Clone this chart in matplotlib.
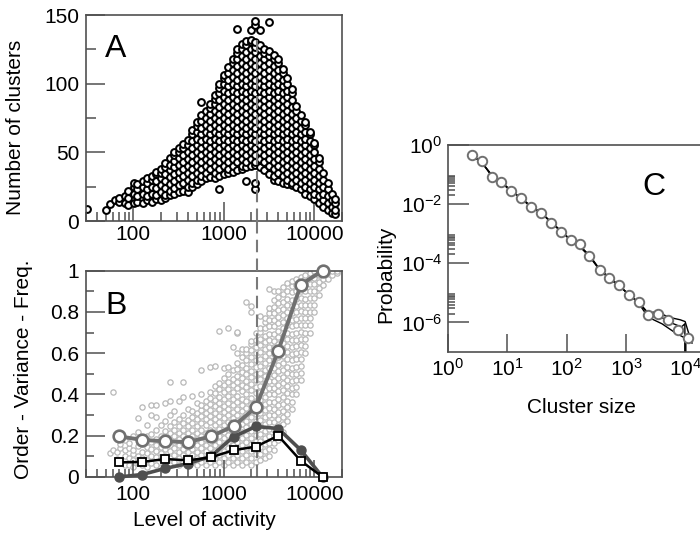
import numpy as np
import matplotlib
matplotlib.use('Agg')
import matplotlib.pyplot as plt
from matplotlib.lines import Line2D
from matplotlib.transforms import blended_transform_factory
from matplotlib.ticker import LogLocator, FixedLocator, NullFormatter, FixedFormatter

plt.rcParams['font.family'] = ['Liberation Sans', 'DejaVu Sans']
plt.rcParams['mathtext.fontset'] = 'custom'
plt.rcParams['mathtext.rm'] = 'Liberation Sans'
plt.rcParams['mathtext.it'] = 'Liberation Sans:italic'
plt.rcParams['mathtext.bf'] = 'Liberation Sans:bold'

# ---------------- Panel A data: number of clusters vs level of activity ----------------
A_col_x = [70, 80, 88, 101, 111, 127, 140, 159, 177, 201, 223, 252, 280, 318, 352, 400, 445,
           503, 560, 633, 705, 797, 888, 1003, 1118, 1263, 1408, 1590, 1772, 2001, 2232, 2520,
           2810, 3170, 3540, 3990, 4460, 5020, 5610, 6320, 7060, 7960, 8890, 10020, 11200,
           12600, 14100, 15800, 17100]
A_col_y = [
    [14, 17],
    [13, 18],
    [12, 17, 22],
    [13, 20, 25, 28],
    [14, 18, 23, 27],
    [13, 20, 25, 29],
    [15, 18, 23, 28, 31],
    [14, 20, 25, 30, 33],
    [16, 19, 24, 29, 34, 36],
    [15, 21, 26, 31, 35, 38],
    [17, 19, 24, 29, 34, 39, 42],
    [19, 22, 27, 32, 37, 41, 46],
    [20, 24, 29, 34, 39, 44, 48, 50],
    [21, 26, 31, 36, 41, 46, 50, 53],
    [22, 28, 33, 38, 43, 48, 53, 56],
    [21, 25, 30, 35, 40, 45, 50, 55, 59],
    [25, 28, 33, 38, 43, 48, 53, 58, 63, 66],
    [27, 30, 35, 40, 45, 50, 55, 60, 65, 69, 72],
    [29, 33, 38, 43, 48, 53, 58, 63, 68, 73, 77, 87],
    [31, 35, 40, 45, 50, 55, 60, 65, 70, 75, 80],
    [32, 38, 43, 48, 53, 58, 63, 68, 73, 78, 82, 85],
    [31, 35, 40, 45, 50, 55, 60, 65, 70, 75, 80, 85, 89, 92],
    [23, 33, 38, 43, 48, 53, 58, 63, 68, 73, 78, 83, 88, 93, 97, 100],
    [34, 40, 45, 50, 55, 60, 65, 70, 75, 80, 85, 90, 95, 100, 104, 106],
    [35, 38, 43, 48, 53, 58, 63, 68, 73, 78, 83, 88, 93, 98, 103, 108, 112],
    [36, 40, 45, 50, 55, 60, 65, 70, 75, 80, 85, 90, 95, 100, 105, 110, 115, 118],
    [37, 43, 48, 53, 58, 63, 68, 73, 78, 83, 88, 93, 98, 103, 108, 113, 118, 122, 125, 140],
    [38, 40, 45, 50, 55, 60, 65, 70, 75, 80, 85, 90, 95, 100, 105, 110, 115, 120, 125, 129],
    [29, 39, 43, 48, 53, 58, 63, 68, 73, 78, 83, 88, 93, 98, 103, 108, 113, 118, 123, 128, 131],
    [40, 45, 50, 55, 60, 65, 70, 75, 80, 85, 90, 95, 100, 105, 110, 115, 120, 125, 130, 132, 139],
    [23, 28, 41, 43, 48, 53, 58, 63, 68, 73, 78, 83, 88, 93, 98, 103, 108, 113, 118, 123, 127, 130, 143, 146],
    [39, 45, 50, 55, 60, 65, 70, 75, 80, 85, 90, 95, 100, 105, 110, 115, 120, 125, 128, 139],
    [37, 43, 48, 53, 58, 63, 68, 73, 78, 83, 88, 93, 98, 103, 108, 113, 118, 122, 125],
    [34, 40, 45, 50, 55, 60, 65, 70, 75, 80, 85, 90, 95, 100, 105, 110, 115, 120, 124, 145],
    [30, 33, 38, 43, 48, 53, 58, 63, 68, 73, 78, 83, 88, 93, 98, 103, 108, 113, 118, 121],
    [29, 35, 40, 45, 50, 55, 60, 65, 70, 75, 80, 85, 90, 95, 100, 105, 110, 115, 118],
    [28, 33, 38, 43, 48, 53, 58, 63, 68, 73, 78, 83, 88, 93, 98, 103, 108, 111],
    [27, 30, 35, 40, 45, 50, 55, 60, 65, 70, 75, 80, 85, 90, 95, 100, 104],
    [26, 28, 33, 38, 43, 48, 53, 58, 63, 68, 73, 78, 83, 88, 93, 96],
    [25, 30, 35, 40, 45, 50, 55, 60, 65, 70, 75, 80, 84],
    [23, 28, 33, 38, 43, 48, 53, 58, 63, 68, 73, 77],
    [20, 25, 30, 35, 40, 45, 50, 55, 60, 65, 70, 72],
    [18, 23, 28, 33, 38, 43, 48, 53, 58, 63, 65],
    [16, 20, 25, 30, 35, 40, 45, 50, 55, 57],
    [13, 18, 23, 28, 33, 38, 43, 46],
    [10, 15, 20, 25, 30, 35],
    [8, 13, 18, 23, 28],
    [6, 10, 15, 20],
    [5, 8, 13, 16],
]
A_out_x = [31, 50, 55, 62]
A_out_y = [8.5, 8, 12.4, 15]

# ---------------- Panel B data ----------------
B_col_x = [55, 60, 66, 72, 80, 89, 100, 112, 126, 141, 158, 178, 200, 224, 251, 282, 316, 355,
           398, 447, 501, 562, 631, 708, 794, 891, 1000, 1122, 1259, 1413, 1585, 1778, 1995,
           2239, 2512, 2818, 3162, 3548, 3981, 4467, 5012, 5623, 6310, 7079, 7943, 8913,
           10000, 11220, 12589, 14125, 15849, 17783]
B_col_y = [
    [0.115],
    [0.41, 0.13],
    [0.12, 0.085],
    [0.14, 0.16, 0.07],
    [0.10, 0.13, 0.18, 0.06],
    [0.06, 0.09, 0.14, 0.165],
    [0.05, 0.08, 0.11, 0.13, 0.20],
    [0.07, 0.10, 0.15, 0.22, 0.285],
    [0.06, 0.09, 0.12, 0.16, 0.19, 0.34],
    [0.05, 0.08, 0.115, 0.145, 0.20, 0.25],
    [0.07, 0.10, 0.135, 0.17, 0.21, 0.30, 0.35],
    [0.06, 0.095, 0.125, 0.155, 0.185, 0.23, 0.29, 0.35],
    [0.05, 0.085, 0.115, 0.145, 0.175, 0.20, 0.25],
    [0.07, 0.10, 0.135, 0.165, 0.195, 0.225, 0.27, 0.36],
    [0.06, 0.09, 0.125, 0.155, 0.185, 0.215, 0.245, 0.30, 0.37, 0.46],
    [0.075, 0.105, 0.14, 0.17, 0.20, 0.23, 0.265, 0.32],
    [0.06, 0.09, 0.12, 0.155, 0.185, 0.215, 0.245, 0.28, 0.37],
    [0.075, 0.105, 0.135, 0.165, 0.20, 0.23, 0.26, 0.30, 0.39, 0.46],
    [0.06, 0.09, 0.12, 0.15, 0.185, 0.215, 0.245, 0.275, 0.33],
    [0.075, 0.105, 0.135, 0.17, 0.20, 0.23, 0.26, 0.29, 0.32, 0.395],
    [0.06, 0.09, 0.12, 0.155, 0.185, 0.215, 0.245, 0.28, 0.31, 0.36],
    [0.075, 0.105, 0.14, 0.17, 0.20, 0.23, 0.26, 0.295, 0.325, 0.35, 0.40, 0.52],
    [0.06, 0.09, 0.125, 0.155, 0.185, 0.215, 0.25, 0.28, 0.31, 0.34, 0.37],
    [0.075, 0.105, 0.14, 0.17, 0.20, 0.23, 0.265, 0.295, 0.325, 0.355, 0.385, 0.41, 0.535],
    [0.06, 0.09, 0.125, 0.155, 0.185, 0.22, 0.25, 0.28, 0.31, 0.345, 0.375, 0.405, 0.44, 0.54],
    [0.075, 0.105, 0.14, 0.17, 0.20, 0.235, 0.265, 0.295, 0.33, 0.36, 0.39, 0.425, 0.455, 0.71],
    [0.06, 0.09, 0.125, 0.155, 0.19, 0.22, 0.25, 0.285, 0.315, 0.345, 0.38, 0.41, 0.445, 0.48, 0.53],
    [0.075, 0.105, 0.14, 0.17, 0.205, 0.235, 0.265, 0.30, 0.33, 0.36, 0.395, 0.425, 0.46, 0.50, 0.535, 0.72],
    [0.06, 0.09, 0.125, 0.155, 0.19, 0.22, 0.25, 0.285, 0.315, 0.35, 0.38, 0.41, 0.445, 0.475, 0.52, 0.63],
    [0.075, 0.105, 0.14, 0.17, 0.205, 0.235, 0.27, 0.30, 0.33, 0.365, 0.395, 0.43, 0.46, 0.49, 0.525, 0.555, 0.60, 0.70, 0.705],
    [0.06, 0.09, 0.125, 0.155, 0.19, 0.22, 0.255, 0.285, 0.32, 0.35, 0.38, 0.415, 0.445, 0.48, 0.51, 0.545, 0.58, 0.62],
    [0.075, 0.105, 0.14, 0.17, 0.205, 0.24, 0.27, 0.305, 0.335, 0.37, 0.40, 0.435, 0.465, 0.50, 0.53, 0.565, 0.60, 0.62, 0.85],
    [0.06, 0.09, 0.125, 0.16, 0.19, 0.225, 0.255, 0.29, 0.32, 0.355, 0.385, 0.42, 0.45, 0.485, 0.515, 0.55, 0.58, 0.615, 0.645, 0.66, 0.80, 0.83],
    [0.075, 0.11, 0.14, 0.175, 0.205, 0.24, 0.27, 0.305, 0.34, 0.37, 0.405, 0.435, 0.47, 0.50, 0.535, 0.565, 0.60, 0.63, 0.665, 0.70],
    [0.08, 0.11, 0.145, 0.175, 0.21, 0.245, 0.275, 0.31, 0.34, 0.375, 0.41, 0.44, 0.475, 0.505, 0.54, 0.57, 0.605, 0.64, 0.67, 0.705, 0.72, 0.78],
    [0.09, 0.125, 0.16, 0.19, 0.225, 0.255, 0.29, 0.325, 0.355, 0.39, 0.42, 0.455, 0.49, 0.52, 0.555, 0.585, 0.62, 0.655, 0.685, 0.72, 0.75, 0.77],
    [0.10, 0.135, 0.165, 0.20, 0.235, 0.265, 0.30, 0.335, 0.365, 0.40, 0.43, 0.465, 0.50, 0.53, 0.565, 0.60, 0.63, 0.665, 0.695, 0.73, 0.76, 0.795, 0.82, 0.91],
    [0.13, 0.165, 0.20, 0.23, 0.265, 0.30, 0.33, 0.365, 0.40, 0.43, 0.465, 0.495, 0.53, 0.565, 0.595, 0.63, 0.66, 0.695, 0.73, 0.76, 0.795, 0.825, 0.86, 0.90],
    [0.18, 0.215, 0.25, 0.28, 0.315, 0.35, 0.38, 0.415, 0.445, 0.48, 0.515, 0.545, 0.58, 0.61, 0.645, 0.68, 0.71, 0.745, 0.775, 0.81, 0.845, 0.875, 0.90],
    [0.22, 0.255, 0.29, 0.32, 0.355, 0.39, 0.42, 0.455, 0.485, 0.52, 0.555, 0.585, 0.62, 0.65, 0.685, 0.72, 0.75, 0.785, 0.815, 0.85, 0.885, 0.92],
    [0.27, 0.305, 0.34, 0.37, 0.405, 0.44, 0.47, 0.505, 0.535, 0.57, 0.605, 0.635, 0.67, 0.70, 0.735, 0.77, 0.80, 0.835, 0.865, 0.90, 0.94],
    [0.33, 0.365, 0.40, 0.43, 0.465, 0.50, 0.53, 0.565, 0.595, 0.63, 0.665, 0.695, 0.73, 0.76, 0.795, 0.83, 0.86, 0.895, 0.925, 0.95],
    [0.40, 0.435, 0.47, 0.50, 0.535, 0.57, 0.60, 0.635, 0.665, 0.70, 0.735, 0.765, 0.80, 0.83, 0.865, 0.90, 0.93, 0.96],
    [0.47, 0.505, 0.54, 0.57, 0.605, 0.64, 0.67, 0.705, 0.735, 0.77, 0.805, 0.835, 0.87, 0.90, 0.935, 0.97],
    [0.60, 0.635, 0.67, 0.70, 0.735, 0.77, 0.80, 0.835, 0.865, 0.90, 0.935, 0.965, 0.98],
    [0.70, 0.735, 0.77, 0.80, 0.835, 0.87, 0.90, 0.935, 0.965, 0.99],
    [0.80, 0.835, 0.87, 0.90, 0.935, 0.965, 1.0],
    [0.88, 0.915, 0.945, 0.98, 1.0],
    [0.93, 0.96, 0.99, 1.0],
    [0.96, 0.99, 1.005],
    [0.98, 1.0],
    [0.99, 1.0],
]

B_bin_x = [69, 125, 226, 402, 717, 1278, 2258, 3985, 7100, 12300]
B_order = [0.197, 0.18, 0.173, 0.169, 0.197, 0.246, 0.338, 0.611, 0.933, 1.0]
B_variance = [0.071, 0.073, 0.087, 0.081, 0.095, 0.130, 0.147, 0.200, 0.078, 0.0]
B_freq = [0.0, 0.012, 0.042, 0.065, 0.10, 0.195, 0.245, 0.235, 0.13, 0.0]

critical_activity = 2300

# ---------------- Panel C data ----------------
C_x = [2.5, 3.7, 5.4, 7.9, 11.7, 17.2, 25.1, 37.2, 55.0, 80.4, 117.5, 166, 240, 355, 513,
       759, 1122, 1622, 2344, 3467, 5129, 7413, 10965]
C_y = [0.457, 0.282, 0.0851, 0.055, 0.0275, 0.0158, 0.0083, 0.0051, 0.00234, 0.00115,
       6.2e-4, 4.6e-4, 1.78e-4, 5.8e-5, 3.2e-5, 1.8e-5, 8.3e-6, 5.0e-6, 1.8e-6, 2.0e-6,
       1.2e-6, 5.6e-7, 2.9e-7]
C_l1_x = [2.5, 3.7, 5.4, 7.9, 11.7, 17.2, 25.1, 37.2, 55, 80.4, 117.5, 166, 240, 355, 513,
          759, 1122, 1622, 2344, 3300, 5200, 8100, 9800, 11000, 12800]
C_l1_y = [0.45, 0.25, 0.095, 0.056, 0.028, 0.0155, 0.0082, 0.0049, 0.0024, 0.0012, 6.0e-4,
          3.9e-4, 1.8e-4, 6.2e-5, 3.3e-5, 1.75e-5, 8.6e-6, 4.8e-6, 2.1e-6, 2.3e-6, 1.5e-6,
          1.23e-6, 1.07e-6, 5.0e-7, 2.0e-7]
C_l2_x = [2.5, 3.7, 5.4, 7.9, 11.7, 17.2, 25.1, 37.2, 55, 80.4, 117.5, 166, 240, 355, 513,
          759, 1122, 1622, 2344, 4000, 6760, 9800, 9850]
C_l2_y = [0.44, 0.27, 0.09, 0.052, 0.027, 0.016, 0.0085, 0.0052, 0.0023, 0.00118, 6.3e-4,
          3.6e-4, 1.7e-4, 6.0e-5, 3.1e-5, 1.7e-5, 8.9e-6, 4.4e-6, 1.5e-6, 9.0e-7, 4.4e-7,
          2.95e-7, 1e-8]
C_l3_x = [2.5, 3.7, 5.4, 7.9, 11.7, 17.2, 25.1, 37.2, 55, 80.4, 117.5, 166, 240, 355, 513,
          759, 1122, 1622, 2344, 3500, 5500, 8500, 9700, 9750]
C_l3_y = [0.46, 0.26, 0.10, 0.054, 0.029, 0.0150, 0.0080, 0.0050, 0.0025, 0.00122, 5.8e-4,
          3.8e-4, 1.9e-4, 6.4e-5, 3.4e-5, 1.8e-5, 8.2e-6, 4.9e-6, 1.9e-6, 1.7e-6, 1.0e-6,
          7.0e-7, 9.0e-7, 1e-8]

# ---------------- Figure ----------------
fig = plt.figure(figsize=(7.0, 5.38), dpi=100)
SP = '#505050'
FS_TICK = 15
FS_LAB = 15

axA = fig.add_axes([0.1229, 0.5892, 0.3657, 0.3829])
axB = fig.add_axes([0.1229, 0.1134, 0.3657, 0.3834])
axC = fig.add_axes([0.64, 0.3457, 0.38, 0.3848])

for ax in (axA, axB, axC):
    for s in ax.spines.values():
        s.set_color(SP)
        s.set_linewidth(1.2)
    ax.tick_params(which='both', direction='in', color=SP, width=1.1,
                   labelsize=FS_TICK, top=False, right=False, labelcolor='black')

# Panel A
ax_x = []
ax_y = []
for xv, ys in zip(A_col_x, A_col_y):
    for yv in ys:
        ax_x.append(xv)
        ax_y.append(yv)
ax_x = A_out_x + ax_x
ax_y = A_out_y + ax_y
axA.plot(ax_x, ax_y, 'o', ms=4.9, mfc='white', mec='black', mew=1.45, ls='none', zorder=2)
axA.set_xscale('log')
axA.set_xlim(30, 20200)
axA.set_ylim(0, 150)
axA.set_yticks([0, 50, 100, 150])
axA.yaxis.set_minor_locator(FixedLocator([25, 75, 125]))
axA.xaxis.set_major_locator(FixedLocator([100, 1000, 10000]))
axA.xaxis.set_major_formatter(FixedFormatter(['100', '1000', '10000']))
axA.xaxis.set_minor_locator(LogLocator(base=10, subs=[2, 3, 4, 5, 6, 7, 8, 9]))
axA.xaxis.set_minor_formatter(NullFormatter())
axA.tick_params(axis='y', which='major', length=14, pad=5)
axA.tick_params(axis='y', which='minor', length=7)
axA.tick_params(axis='x', which='major', length=14, pad=3)
axA.tick_params(axis='x', which='minor', length=6.5)
axA.axvline(critical_activity, ymin=0, ymax=0.88, color='#7a7a7a', lw=1.5,
            ls=(0, (6, 3)), zorder=3)
axA.set_ylabel('Number of clusters', fontsize=FS_LAB, va='center', ha='center')
axA.yaxis.set_label_coords(-0.277, 0.456)
axA.text(0.074, 0.796, 'A', transform=axA.transAxes, fontsize=23, va='baseline', ha='left')

# Panel B
bx = []
by = []
for xv, ys in zip(B_col_x, B_col_y):
    for yv in ys:
        bx.append(xv)
        by.append(yv)
axB.plot(bx, by, 'o', ms=3.8, mfc='white', mec='#b8b8b8', mew=0.9, ls='none', zorder=1)
axB.axvline(critical_activity, color='#7a7a7a', lw=1.5, ls=(0, (6, 3)), zorder=1.5)
axB.plot(B_bin_x, B_freq, '-o', color='#4e4e4e', lw=2.6, ms=6.5, mfc='#4e4e4e',
         mec='#4e4e4e', zorder=2, clip_on=False)
axB.plot(B_bin_x, B_order, '-o', color='#707070', lw=2.8, ms=8.4, mfc='white',
         mec='#707070', mew=1.9, zorder=3, clip_on=False)
axB.plot(B_bin_x, B_variance, '-s', color='black', lw=1.8, ms=6.3, mfc='white',
         mec='black', mew=1.3, zorder=4, clip_on=False)
axB.set_xscale('log')
axB.set_xlim(30, 20200)
axB.set_ylim(0, 1)
axB.set_yticks([0, 0.2, 0.4, 0.6, 0.8, 1.0])
axB.set_yticklabels(['0', '0.2', '0.4', '0.6', '0.8', '1'])
axB.yaxis.set_minor_locator(FixedLocator([0.1, 0.3, 0.5, 0.7, 0.9]))
axB.xaxis.set_major_locator(FixedLocator([100, 1000, 10000]))
axB.xaxis.set_major_formatter(FixedFormatter(['100', '1000', '10000']))
axB.xaxis.set_minor_locator(LogLocator(base=10, subs=[2, 3, 4, 5, 6, 7, 8, 9]))
axB.xaxis.set_minor_formatter(NullFormatter())
axB.tick_params(axis='y', which='major', length=14, pad=5)
axB.tick_params(axis='y', which='minor', length=6)
axB.tick_params(axis='x', which='major', length=12, pad=6)
axB.tick_params(axis='x', which='minor', length=6)
axB.set_ylabel('Order - Variance - Freq.', fontsize=FS_LAB, va='center', ha='center')
axB.yaxis.set_label_coords(-0.246, 0.52)
axB.set_xlabel('Level of activity', fontsize=FS_LAB, va='center', ha='center')
axB.xaxis.set_label_coords(0.461, -0.209)
axB.text(0.074, 0.791, 'B', transform=axB.transAxes, fontsize=23, va='baseline', ha='left')

# dashed line across the gap between A and B
tr = blended_transform_factory(axB.transData, fig.transFigure)
fig.add_artist(Line2D([critical_activity, critical_activity], [0.4968, 0.5892], transform=tr,
                      color='#7a7a7a', lw=1.5, ls=(0, (6, 3))))

# Panel C
for lx, ly in ((C_l1_x, C_l1_y), (C_l2_x, C_l2_y), (C_l3_x, C_l3_y)):
    axC.plot(lx, ly, '-', color='black', lw=1.0, zorder=2)
axC.plot(C_x, C_y, 'o', ms=6.8, mfc='white', mec='#707070', mew=1.4, ls='none', zorder=3,
         clip_on=False)
axC.set_xscale('log')
axC.set_yscale('log')
axC.set_xlim(1, 3.0e4)
axC.set_ylim(1e-7, 1)
axC.xaxis.set_major_locator(FixedLocator([1, 10, 100, 1000, 10000]))
axC.xaxis.set_major_formatter(FixedFormatter([r'$10^{0}$', r'$10^{1}$', r'$10^{2}$',
                                              r'$10^{3}$', r'$10^{4}$']))
axC.xaxis.set_minor_locator(LogLocator(base=10, subs=[2, 3, 4, 5, 6, 7, 8, 9]))
axC.xaxis.set_minor_formatter(NullFormatter())
axC.yaxis.set_major_locator(FixedLocator([1, 1e-2, 1e-4, 1e-6]))
axC.yaxis.set_major_formatter(FixedFormatter([r'$10^{0}$', r'$10^{-2}$', r'$10^{-4}$',
                                              r'$10^{-6}$']))
yminor = []
for dec in (1e-2, 1e-4, 1e-6):
    for k in (2, 3, 4, 5, 6, 7, 8, 9):
        yminor.append(k * dec)
axC.yaxis.set_minor_locator(FixedLocator(yminor))
axC.yaxis.set_minor_formatter(NullFormatter())
axC.tick_params(axis='y', which='major', length=15, pad=4)
axC.tick_params(axis='y', which='minor', length=5)
axC.tick_params(axis='x', which='major', length=13, pad=4)
axC.tick_params(axis='x', which='minor', length=7)
axC.set_ylabel('Probability', fontsize=FS_LAB, va='center', ha='center')
axC.yaxis.set_label_coords(-0.233, 0.377)
axC.set_xlabel('Cluster size', fontsize=FS_LAB, va='center', ha='center')
axC.xaxis.set_label_coords(0.5, -0.266)
axC.text(0.729, 0.758, 'C', transform=axC.transAxes, fontsize=23, va='baseline', ha='left')

fig.savefig('out.png', dpi=100)
